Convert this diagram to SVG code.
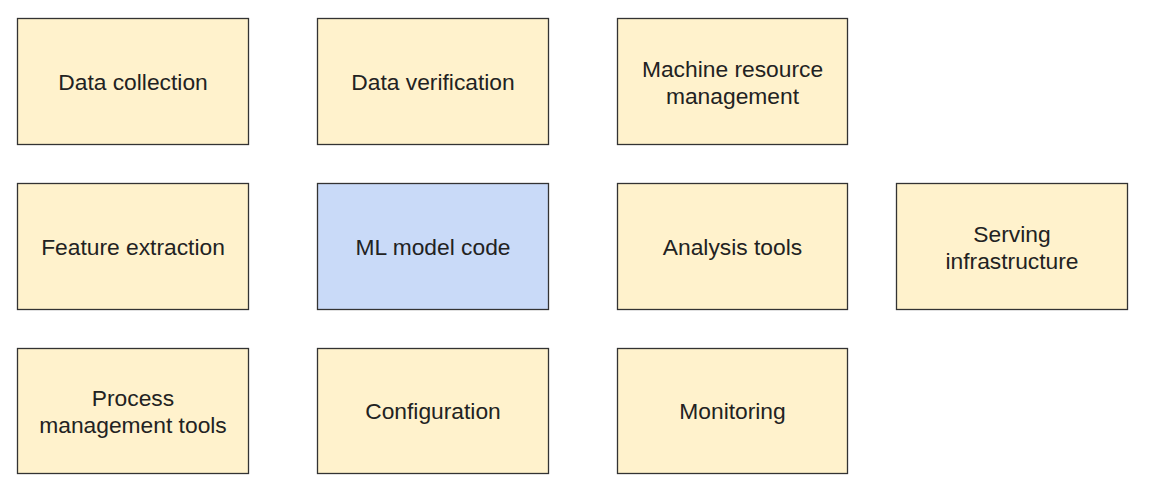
<svg xmlns="http://www.w3.org/2000/svg" width="1150" height="490" viewBox="0 0 1150 490">
<style>
.b{fill:#fff2cc;stroke:#333;stroke-width:1.3}
.m{fill:#c9daf8;stroke:#333;stroke-width:1.3}
.t{font-family:'Liberation Sans',Arial,Helvetica,sans-serif;font-size:22.8px;fill:#222;text-anchor:middle}
</style>
<rect width="1150" height="490" fill="#fff"/>
<g id="data-collection"><rect class="b" x="17.5" y="18.5" width="231" height="126"/><text class="t" x="133" y="90">Data collection</text></g>
<g id="data-verification"><rect class="b" x="317.5" y="18.5" width="231" height="126"/><text class="t" x="433" y="90">Data verification</text></g>
<g id="machine-resource"><rect class="b" x="617.5" y="18.5" width="230" height="126"/><text class="t" x="732.5" y="77">Machine resource</text><text class="t" x="732.5" y="104">management</text></g>
<g id="feature-extraction"><rect class="b" x="17.5" y="183.5" width="231" height="126"/><text class="t" x="133" y="255">Feature extraction</text></g>
<g id="ml-model-code"><rect class="m" x="317.5" y="183.5" width="231" height="126"/><text class="t" x="433" y="255">ML model code</text></g>
<g id="analysis-tools"><rect class="b" x="617.5" y="183.5" width="230" height="126"/><text class="t" x="732.5" y="255">Analysis tools</text></g>
<g id="serving-infrastructure"><rect class="b" x="896.5" y="183.5" width="231" height="126"/><text class="t" x="1012" y="242">Serving</text><text class="t" x="1012" y="269">infrastructure</text></g>
<g id="process-management"><rect class="b" x="17.5" y="348.5" width="231" height="125"/><text class="t" x="133" y="406">Process</text><text class="t" x="133" y="433">management tools</text></g>
<g id="configuration"><rect class="b" x="317.5" y="348.5" width="231" height="125"/><text class="t" x="433" y="419">Configuration</text></g>
<g id="monitoring"><rect class="b" x="617.5" y="348.5" width="230" height="125"/><text class="t" x="732.5" y="419">Monitoring</text></g>
<g id="connectors"></g>
</svg>
